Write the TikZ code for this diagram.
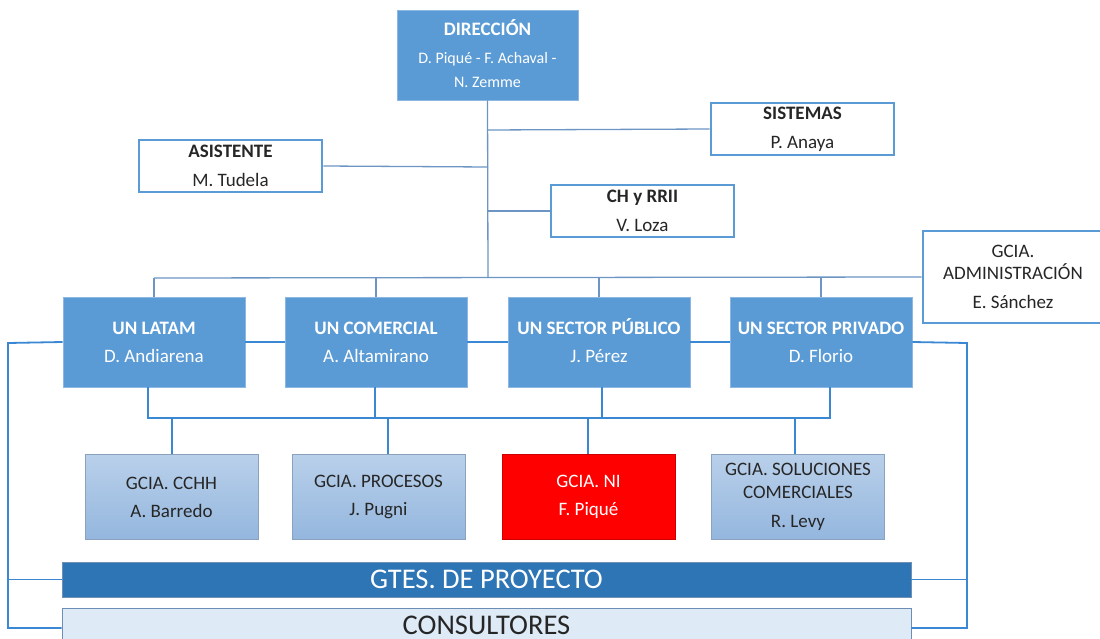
\documentclass[tikz,border=0pt]{standalone}
\usepackage{fontspec}
\setmainfont{Carlito}
\usetikzlibrary{calc}
\definecolor{unblue}{HTML}{5B9BD5}
\definecolor{unbord}{HTML}{8DB8E4}
\definecolor{upc}{HTML}{6C95C4}
\definecolor{loc}{HTML}{3A88D4}
\definecolor{gtop}{HTML}{B9D0EA}
\definecolor{gbot}{HTML}{94B6DE}
\definecolor{gbord}{HTML}{8AA2BE}
\definecolor{gtes}{HTML}{2E75B6}
\definecolor{gtesb}{HTML}{6F90B2}
\definecolor{cons}{HTML}{DEEAF6}
\definecolor{consb}{HTML}{6B8DB6}
\definecolor{txt}{HTML}{262626}
\begin{document}
\begin{tikzpicture}[x=1pt,y=-1pt,
  unbox/.style={draw=unbord, line width=0.8pt, fill=unblue, text=white, minimum width=182pt, minimum height=90pt, inner sep=0pt, align=center, font=\fontsize{19}{28}\selectfont},
  wbox/.style={draw=unblue, line width=2.6pt, fill=white, text=txt, minimum width=183pt, minimum height=52pt, inner sep=0pt, align=center, font=\fontsize{19}{29}\selectfont},
  gbox/.style={draw=gbord, line width=0.8pt, top color=gtop, bottom color=gbot, text=txt, minimum width=173pt, minimum height=85pt, inner sep=0pt, align=center, font=\fontsize{19}{28}\selectfont},
  upline/.style={draw=upc, line width=1.3pt},
  loline/.style={draw=loc, line width=1.8pt}]
\useasboundingbox (0,0) rectangle (1100,639);

% nodes
\node[unbox, minimum width=181pt, font=\fontsize{16}{24}\selectfont] (dir) at (487.5,55) {{\fontsize{19}{24}\selectfont\bfseries DIRECCI\smash{Ó}N}\\[4pt]D. Piqué - F. Achaval -\\N. Zemme};
\node[wbox] (sis) at (802.5,129) {\textbf{SISTEMAS}\\P. Anaya};
\node[wbox] (asi) at (230.5,166) {\textbf{ASISTENTE}\\M. Tudela};
\node[wbox] (ch) at (642.5,211) {\textbf{CH y RRII}\\V. Loza};
\node[wbox, minimum width=180pt, minimum height=92pt, font=\fontsize{19}{22}\selectfont] (adm) at (1013,277) {GCIA.\\ADMINISTRACI\smash{Ó}N\\[7pt]E. Sánchez};

\node[unbox] (latam) at (154,342) {\textbf{UN LATAM}\\D. Andiarena};
\node[unbox] (com) at (376,342) {\textbf{UN COMERCIAL}\\A. Altamirano};
\node[unbox] (pub) at (599,342) {\textbf{UN SECTOR P\smash{Ú}BLICO}\\J. Pérez};
\node[unbox] (priv) at (821,342) {\textbf{UN SECTOR PRIVADO}\\D. Florio};

\node[gbox] (cchh) at (171.5,497) {GCIA. CCHH\\A. Barredo};
\node[gbox] (proc) at (378.5,497) {GCIA. PROCESOS\\J. Pugni};
\node[gbox, draw=red!80!black, top color=red, bottom color=red, text=white] (ni) at (588.5,497) {GCIA. NI\\F. Piqué};
\node[gbox, font=\fontsize{19}{23}\selectfont] (sol) at (798,497) {GCIA. SOLUCIONES\\COMERCIALES\\[6pt]R. Levy};

\node[draw=gtesb, line width=0.8pt, fill=gtes, text=white, minimum width=849pt, minimum height=35pt, inner sep=0pt, font=\fontsize{28.5}{30}\selectfont] (gt) at (486.5,579.5) {GTES. DE PROYECTO};
\node[draw=consb, line width=0.8pt, fill=cons, text=txt, minimum width=849pt, minimum height=40pt, inner sep=0pt, text depth=6pt, font=\fontsize{28.5}{30}\selectfont] (cs) at (486.5,628) {CONSULTORES};

% upper connectors
\coordinate (t1) at (488,130);
\coordinate (t2) at (488,167);
\coordinate (t3) at (488,211);
\coordinate (bl) at (154,278);
\coordinate (bt) at (488,278);
\draw[upline] (dir.south) -- (bt);
\draw[upline] (t1) -- (sis.west);
\draw[upline] (asi.east) -- (t2);
\draw[upline] (t3) -- (ch.west);
\draw[upline] (bl) -- (adm.west);
\draw[upline] (bl) -- (latam.north);
\draw[upline] (com.north |- bl) -- (com.north);
\draw[upline] (pub.north |- bl) -- (pub.north);
\draw[upline] (priv.north |- bl) -- (priv.north);

% lower connectors
\coordinate (lt) at (8,343);
\coordinate (lb) at (8,628);
\coordinate (rt) at (967,343);
\coordinate (rb) at (967,628);
\draw[loline] (latam.west) -- (lt) -- (lb) -- (cs.west);
\draw[loline] (gt.west) -- (gt.west -| lt);
\draw[loline] (priv.east) -- (rt) -- (rb) -- (cs.east);
\draw[loline] (gt.east) -- (gt.east -| rt);
\draw[loline] (latam.east) -- (com.west);
\draw[loline] (com.east) -- (pub.west);
\draw[loline] (pub.east) -- (priv.west);

\coordinate (h1) at (148,418);
\coordinate (h2) at (375,418);
\coordinate (h3) at (602,418);
\coordinate (h4) at (830,418);
\draw[loline] (latam.south -| h1) -- (h1) -- (h4) -- (priv.south -| h4);
\draw[loline] (com.south -| h2) -- (h2);
\draw[loline] (pub.south -| h3) -- (h3);
\draw[loline] (172,418) -- (cchh.north -| 172,0);
\draw[loline] (388,418) -- (proc.north -| 388,0);
\draw[loline] (588,418) -- (ni.north -| 588,0);
\draw[loline] (795,418) -- (sol.north -| 795,0);
\end{tikzpicture}
\end{document}
